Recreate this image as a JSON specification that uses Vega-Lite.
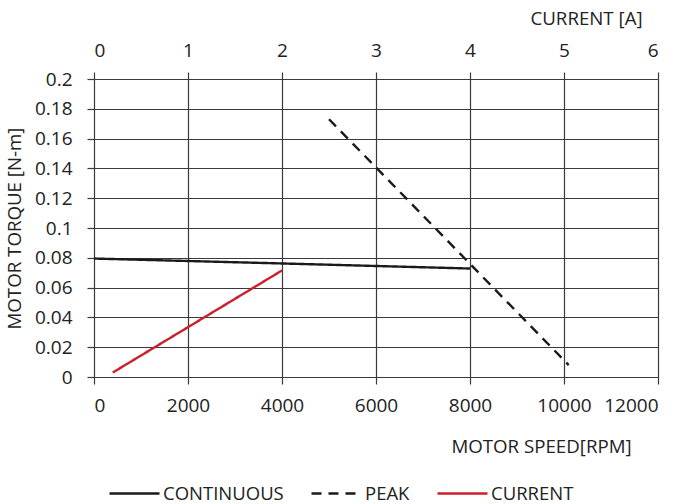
{
  "$schema": "https://vega.github.io/schema/vega-lite/v6.json",
  "width": 564,
  "height": 298,
  "autosize": {"type": "none"},
  "padding": {"left": 94, "top": 79, "right": 30, "bottom": 127},
  "background": "white",
  "config": {
    "view": {"stroke": null},
    "font": "Open Sans",
    "axis": {
      "labelFont": "Open Sans",
      "titleFont": "Open Sans",
      "labelFontSize": 19,
      "titleFontSize": 18.7,
      "titleFontWeight": "normal",
      "labelColor": "#222",
      "titleColor": "#222",
      "gridColor": "#3a3a3a",
      "gridOpacity": 1,
      "gridWidth": 1.2,
      "tickColor": "#3a3a3a",
      "tickWidth": 1.2,
      "tickSize": 7,
      "domain": false,
      "labelOverlap": false
    },
    "legend": {"labelFont": "Open Sans", "labelFontSize": 18.5, "labelColor": "#222"}
  },
  "data": {
    "values": [
      {"series": "CONTINUOUS", "rpm": 0, "torque": 0.0795},
      {"series": "CONTINUOUS", "rpm": 4000, "torque": 0.0762},
      {"series": "CONTINUOUS", "rpm": 8000, "torque": 0.0728},
      {"series": "PEAK", "rpm": 5000, "torque": 0.173},
      {"series": "PEAK", "rpm": 10100, "torque": 0.008},
      {"series": "CURRENT", "current": 0.2, "torque": 0.003},
      {"series": "CURRENT", "current": 2.0, "torque": 0.0715}
    ]
  },
  "layer": [
    {
      "transform": [{"filter": "datum.series !== 'CURRENT'"}],
      "mark": {"type": "line", "strokeWidth": 2.4},
      "encoding": {
        "x": {
          "field": "rpm", "type": "quantitative",
          "scale": {"domain": [0, 12000], "nice": false, "zero": true},
          "axis": {
            "orient": "bottom", "values": [0, 2000, 4000, 6000, 8000, 10000, 12000],
            "format": "d", "labelPadding": 12, "grid": true,
            "title": "MOTOR SPEED[RPM]", "titleX": 447, "titleY": 69,
            "titleAlign": "center", "titleBaseline": "middle"
          }
        },
        "y": {
          "field": "torque", "type": "quantitative",
          "scale": {"domain": [0, 0.2], "nice": false},
          "axis": {
            "values": [0, 0.02, 0.04, 0.06, 0.08, 0.1, 0.12, 0.14, 0.16, 0.18, 0.2],
            "format": ".2~f", "labelPadding": 15, "grid": true,
            "title": "MOTOR TORQUE [N-m]", "titleX": -80, "titleY": 149,
            "titleAngle": -90, "titleAlign": "center", "titleBaseline": "middle"
          }
        },
        "color": {
          "field": "series", "type": "nominal",
          "scale": {"domain": ["CONTINUOUS", "PEAK", "CURRENT"], "range": ["#1a1a1a", "#1a1a1a", "#cc1f2a"]},
          "legend": {
            "title": null, "orient": "none", "direction": "horizontal",
            "legendX": 14, "legendY": 388, "symbolType": "stroke",
            "symbolSize": 2500, "symbolStrokeWidth": 2.4, "labelOffset": 2,
            "columnPadding": 22
          }
        },
        "strokeDash": {
          "field": "series", "type": "nominal",
          "scale": {"domain": ["CONTINUOUS", "PEAK", "CURRENT"], "range": [[1, 0], [10, 7], [1, 0]]},
          "legend": {
            "title": null, "orient": "none", "direction": "horizontal",
            "legendX": 14, "legendY": 388, "symbolType": "stroke",
            "symbolSize": 2500, "symbolStrokeWidth": 2.4, "labelOffset": 2,
            "columnPadding": 22
          }
        },
        "detail": {"field": "series"}
      }
    },
    {
      "transform": [{"filter": "datum.series === 'CURRENT'"}],
      "mark": {"type": "line", "strokeWidth": 2.4},
      "encoding": {
        "x": {
          "field": "current", "type": "quantitative",
          "scale": {"domain": [0, 6], "nice": false},
          "axis": {
            "orient": "top", "values": [0, 1, 2, 3, 4, 5, 6], "labelPadding": 12,
            "grid": false, "title": "CURRENT [A]", "titleX": 492, "titleY": -61,
            "titleAlign": "center", "titleBaseline": "middle"
          }
        },
        "y": {
          "field": "torque", "type": "quantitative",
          "scale": {"domain": [0, 0.2], "nice": false},
          "axis": {
            "values": [0, 0.02, 0.04, 0.06, 0.08, 0.1, 0.12, 0.14, 0.16, 0.18, 0.2],
            "format": ".2~f", "labelPadding": 15, "grid": true,
            "title": "MOTOR TORQUE [N-m]", "titleX": -80, "titleY": 149,
            "titleAngle": -90, "titleAlign": "center", "titleBaseline": "middle"
          }
        },
        "color": {
          "field": "series", "type": "nominal",
          "scale": {"domain": ["CONTINUOUS", "PEAK", "CURRENT"], "range": ["#1a1a1a", "#1a1a1a", "#cc1f2a"]}
        },
        "strokeDash": {
          "field": "series", "type": "nominal",
          "scale": {"domain": ["CONTINUOUS", "PEAK", "CURRENT"], "range": [[1, 0], [10, 7], [1, 0]]}
        }
      }
    }
  ],
  "resolve": {"scale": {"x": "independent"}, "axis": {"x": "independent"}}
}
